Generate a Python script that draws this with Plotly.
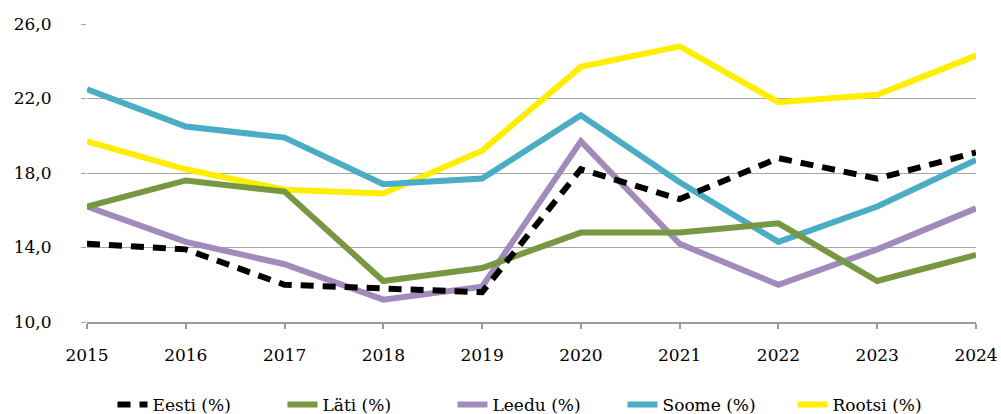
import plotly.graph_objects as go

years = [2015, 2016, 2017, 2018, 2019, 2020, 2021, 2022, 2023, 2024]
eesti = [14.2, 13.9, 12.0, 11.8, 11.6, 18.2, 16.6, 18.8, 17.7, 19.1]
lati = [16.2, 17.6, 17.0, 12.2, 12.9, 14.8, 14.8, 15.3, 12.2, 13.6]
leedu = [16.2, 14.3, 13.1, 11.2, 11.9, 19.7, 14.2, 12.0, 13.9, 16.1]
soome = [22.5, 20.5, 19.9, 17.4, 17.7, 21.1, 17.5, 14.3, 16.2, 18.7]
rootsi = [19.7, 18.2, 17.1, 16.9, 19.2, 23.7, 24.8, 21.8, 22.2, 24.3]

series = [
    ("Eesti (%)", eesti, "#000000", "13px,9px"),
    ("Läti (%)", lati, "#789743", "solid"),
    ("Leedu (%)", leedu, "#a28bbb", "solid"),
    ("Soome (%)", soome, "#4bacc6", "solid"),
    ("Rootsi (%)", rootsi, "#ffee00", "solid"),
]

fig = go.Figure()
for name, vals, color, dash in [series[4], series[3], series[2], series[1], series[0]]:
    fig.add_trace(go.Scatter(
        x=years, y=vals, name=name, mode="lines",
        line=dict(color=color, width=6, dash=dash),
    ))

font_family = "DejaVu Serif, Liberation Serif, serif"
fig.update_layout(
    width=1001, height=414,
    margin=dict(l=87, r=25, t=24, b=92, autoexpand=False),
    plot_bgcolor="white", paper_bgcolor="white",
    font=dict(family=font_family, size=17, color="#000000"),
    showlegend=True,
    legend=dict(
        orientation="h", x=0.5 + 37 / 1001, xanchor="center", xref="container",
        y=9 / 414, yanchor="middle", yref="container",
        traceorder="reversed", font=dict(size=17), itemwidth=30,
        entrywidth=125, entrywidthmode="pixels",
    ),
    xaxis=dict(
        range=[2015, 2024], tickmode="array", tickvals=years,
        ticktext=[str(y) for y in years],
        showgrid=False, showline=True, linecolor="#999999", linewidth=1.5,
        ticks="outside", ticklen=5, tickcolor="#999999", tickwidth=1.5,
        zeroline=False, tickfont=dict(size=17), automargin=False,
        ticklabelstandoff=12,
    ),
    yaxis=dict(
        range=[10, 26], tickmode="array", tickvals=[10, 14, 18, 22, 26],
        ticktext=["10,0", "14,0", "18,0", "22,0", "26,0"],
        showgrid=True, gridcolor="#a6a6a6", gridwidth=1,
        showline=False, zeroline=False,
        ticks="outside", ticklen=5, tickcolor="#a6a6a6",
        ticklabelstandoff=26, tickfont=dict(size=17), automargin=False,
    ),
)

fig.write_html("out.html", config={"displayModeBar": False},
               post_script="document.body.style.margin='0';")
